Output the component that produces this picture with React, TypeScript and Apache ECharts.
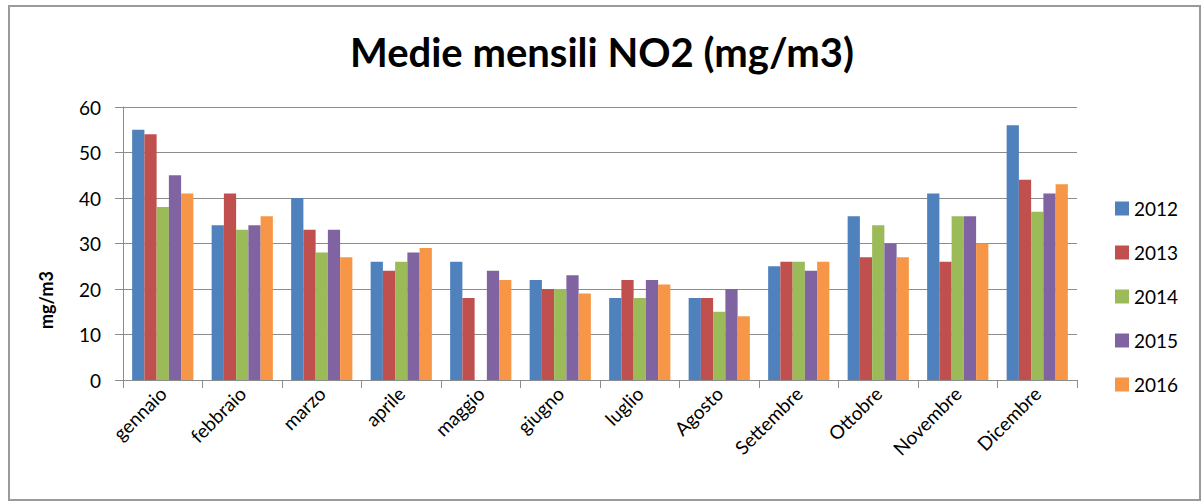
import React, { useEffect, useRef } from "react";
import * as echarts from "echarts";

const months = ["gennaio", "febbraio", "marzo", "aprile", "maggio", "giugno", "luglio", "Agosto", "Settembre", "Ottobre", "Novembre", "Dicembre"];
const years = ["2012", "2013", "2014", "2015", "2016"];
const v2012 = [55, 34, 40, 26, 26, 22, 18, 18, 25, 36, 41, 56];
const v2013 = [54, 41, 33, 24, 18, 20, 22, 18, 26, 27, 26, 44];
const v2014 = [38, 33, 28, 26, null, 20, 18, 15, 26, 34, 36, 37];
const v2015 = [45, 34, 33, 28, 24, 23, 22, 20, 24, 30, 36, 41];
const v2016 = [41, 36, 27, 29, 22, 19, 21, 14, 26, 27, 30, 43];
const colors = ["#4F81BD", "#C0504D", "#9BBB59", "#8064A2", "#F79646"];
const FONT = "Lato";

export default function App() {
  const ref = useRef<HTMLDivElement>(null);
  useEffect(() => {
    document.body.style.margin = "0";
    const chart = echarts.init(ref.current!, null, { renderer: "svg" });
    const data = [v2012, v2013, v2014, v2015, v2016];
    chart.setOption({
      animation: false,
      backgroundColor: "#ffffff",
      title: {
        text: "Medie mensili NO2 (mg/m3)",
        left: "center",
        top: 27,
        textStyle: { fontFamily: FONT, fontSize: 40, fontWeight: "bold", color: "#000" },
      },
      legend: {
        orient: "vertical",
        left: 1115,
        top: 199,
        padding: 0,
        itemWidth: 14,
        itemHeight: 14,
        itemGap: 25,
        icon: "rect",
        data: years,
        textStyle: { fontFamily: FONT, fontSize: 19, color: "#000", lineHeight: 16, padding: [0, 0, 0, 0] },
      },
      grid: { left: 123, right: 127, top: 107, bottom: 123 },
      xAxis: {
        type: "category",
        data: months,
        axisLine: { lineStyle: { color: "#8c8c8c", width: 1 } },
        axisTick: { show: true, length: 8, lineStyle: { color: "#8c8c8c" } },
        axisLabel: { rotate: 45, fontFamily: FONT, fontSize: 19, color: "#000", margin: 10 },
      },
      yAxis: {
        type: "value",
        min: 0,
        max: 60,
        interval: 10,
        axisLine: { show: true, lineStyle: { color: "#8c8c8c" } },
        axisTick: { show: true, length: 8, lineStyle: { color: "#8c8c8c" } },
        axisLabel: { fontFamily: FONT, fontSize: 19, color: "#000", margin: 22 },
        splitLine: { lineStyle: { color: "#8c8c8c", width: 1 } },
      },
      graphic: [
        {
          type: "rect",
          shape: { x: 9, y: 6, width: 1191, height: 494 },
          style: { fill: "none", stroke: "#9a9a9a", lineWidth: 2 },
          silent: true,
        },
        {
          type: "text",
          x: 46,
          y: 300,
          rotation: Math.PI / 2,
          style: {
            text: "mg/m3",
            fontFamily: FONT,
            fontSize: 18,
            fontWeight: "bold",
            fill: "#000",
            textAlign: "center",
            textVerticalAlign: "middle",
          },
        },
      ],
      series: years.map((y, i) => ({
        name: y,
        type: "bar",
        data: data[i].map((v) => (v === null ? "-" : v)),
        barGap: "0%",
        barCategoryGap: "23%",
        itemStyle: { color: colors[i] },
      })),
    });
    return () => chart.dispose();
  }, []);
  return <div ref={ref} style={{ width: 1204, height: 503 }} />;
}
